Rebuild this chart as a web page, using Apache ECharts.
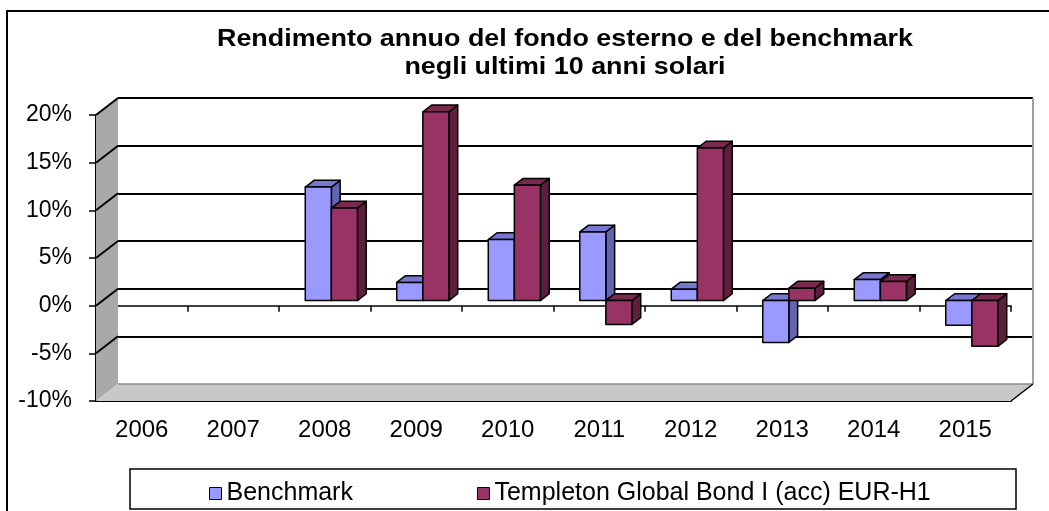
<!DOCTYPE html>
<html>
<head>
<meta charset="utf-8">
<script src="https://cdn.jsdelivr.net/npm/echarts@6/dist/echarts.min.js"></script>
<style>
  html, body { margin: 0; padding: 0; background: #fff; }
  #chart { width: 1049px; height: 511px; }
</style>
</head>
<body>
<div id="chart"></div>
<script>
// dati
const years = ['2006', '2007', '2008', '2009', '2010', '2011', '2012', '2013', '2014', '2015'];
const benchmark = [null, null, 11.9, 1.9, 6.4, 7.2, 1.2, -4.4, 2.2, -2.6];
const templeton = [null, null, 9.7, 19.8, 12.1, -2.5, 16.0, 1.3, 2.0, -4.8];
const yTicks = [-10, -5, 0, 5, 10, 15, 20];

const FONT = 'Liberation Sans, Arial, sans-serif';
// profondita' del grafico 3D (spostamento parete di fondo)
const DX = 22, DY = -17;

function toData(arr) {
    return arr.map((v, i) => [i, v == null ? '-' : v]);
}

// barra "3D": faccia frontale, faccia superiore, fianco destro
function barRenderer(side, front, topCol, sideCol) {
    return function (params, api) {
        const idx = api.value(0);
        const val = api.value(1);
        if (isNaN(val)) return null;
        const band = api.size([1, 0])[0];
        const w = band * 0.285;
        const p0 = api.coord([idx, 0]);
        const p1 = api.coord([idx, val]);
        const fx = DX * 0.3, fy = DY * 0.3;
        const ddx = DX * 0.4, ddy = DY * 0.4;
        const x0 = (side === 0 ? p0[0] - w : p0[0]) + fx;
        const x1 = x0 + w;
        const yT = Math.min(p0[1], p1[1]) + fy;
        const yB = Math.max(p0[1], p1[1]) + fy;
        const stroke = { stroke: '#000', lineWidth: 1.5, lineJoin: 'round' };
        return {
            type: 'group',
            children: [
                {
                    type: 'polygon',
                    shape: { points: [[x1, yT], [x1 + ddx, yT + ddy], [x1 + ddx, yB + ddy], [x1, yB]] },
                    style: Object.assign({ fill: sideCol }, stroke)
                },
                {
                    type: 'polygon',
                    shape: { points: [[x0, yT], [x1, yT], [x1 + ddx, yT + ddy], [x0 + ddx, yT + ddy]] },
                    style: Object.assign({ fill: topCol }, stroke)
                },
                {
                    type: 'rect',
                    shape: { x: x0, y: yT, width: w, height: yB - yT },
                    style: Object.assign({ fill: front }, stroke)
                }
            ]
        };
    };
}

// parete sinistra e pavimento
function wallRenderer(params, api) {
    const cs = params.coordSys;
    const x = cs.x, y = cs.y, w = cs.width, h = cs.height;
    const children = [
        {
            type: 'polygon',
            shape: { points: [[x, y], [x + DX, y + DY], [x + DX, y + h + DY], [x, y + h]] },
            style: { fill: '#A9A9A9' }
        },
        {
            type: 'polygon',
            shape: { points: [[x, y + h], [x + DX, y + h + DY], [x + w + DX, y + h + DY], [x + w, y + h]] },
            style: { fill: '#C8C8C8' }
        },
        {
            type: 'line',
            shape: { x1: x + DX, y1: y + h + DY, x2: x + w + DX, y2: y + h + DY },
            style: { stroke: '#8C8C8C', lineWidth: 1.5 }
        },
        {
            type: 'line',
            shape: { x1: x + w + DX, y1: y + DY, x2: x + w + DX, y2: y + h + DY },
            style: { stroke: '#A0A0A0', lineWidth: 2 }
        },
        {
            type: 'line',
            shape: { x1: x + w, y1: y + h, x2: x + w + DX, y2: y + h + DY },
            style: { stroke: '#000', lineWidth: 1.5 }
        }
    ];
    yTicks.forEach(t => {
        if (t === yTicks[0]) return;
        const ty = api.coord([0, t])[1];
        children.push({
            type: 'line',
            shape: { x1: x, y1: ty, x2: x + DX, y2: ty + DY },
            style: { stroke: '#000', lineWidth: 2 }
        });
    });
    return { type: 'group', children: children };
}

function initChart() {
    const chart = echarts.init(document.getElementById('chart'));
    const yMin = yTicks[0], yMax = yTicks[yTicks.length - 1];

    const option = {
        animation: false,
        backgroundColor: '#fff',
        graphic: [
            {
                type: 'rect',
                shape: { x: 7, y: 11, width: 1100, height: 600 },
                style: { fill: 'none', stroke: '#000', lineWidth: 2 }
            },
            {
                type: 'text',
                x: 565, y: 25,
                scaleX: 1.12,
                style: {
                    text: 'Rendimento annuo del fondo esterno e del benchmark\nnegli ultimi 10 anni solari',
                    align: 'center', verticalAlign: 'top',
                    font: 'bold 24px ' + FONT, lineHeight: 28, fill: '#000'
                }
            },
            {
                type: 'rect',
                shape: { x: 130, y: 469, width: 886, height: 40 },
                style: { fill: 'none', stroke: '#000', lineWidth: 1.5 }
            }
        ],
        legend: {
            left: 204, top: 476,
            itemWidth: 12, itemHeight: 12, itemGap: 124,
            textStyle: { fontFamily: FONT, fontSize: 25, color: '#000' },
            data: [
                { name: 'Benchmark', icon: 'rect', itemStyle: { color: '#9999FF', borderColor: '#000', borderWidth: 1 } },
                { name: 'Templeton Global Bond I (acc) EUR-H1', icon: 'rect', itemStyle: { color: '#993366', borderColor: '#000', borderWidth: 1 } }
            ]
        },
        grid: [
            { left: 96, top: 115, width: 915, height: 286 },
            { left: 96 + DX, top: 115 + DY, width: 915, height: 286 }
        ],
        xAxis: [
            {
                type: 'category', gridIndex: 0, data: years, position: 'bottom',
                axisLine: { onZero: false, lineStyle: { color: '#000', width: 2 } },
                axisTick: { show: false },
                axisLabel: { fontFamily: FONT, fontSize: 24, color: '#000', margin: 17 }
            },
            {
                type: 'category', gridIndex: 0, data: years, position: 'top',
                axisLine: { onZero: true, onZeroAxisIndex: 0, lineStyle: { color: '#000', width: 1.5 } },
                axisTick: { show: true, inside: true, length: 6, lineStyle: { color: '#000', width: 1.5 } },
                axisLabel: { show: false }
            },
            {
                type: 'category', gridIndex: 1, data: years, show: false
            }
        ],
        yAxis: [
            {
                type: 'value', gridIndex: 0, min: yMin, max: yMax, interval: 5,
                axisLine: { show: true, lineStyle: { color: '#000', width: 2 } },
                axisTick: { show: true, length: 7, lineStyle: { color: '#000', width: 1.5 } },
                axisLabel: { fontFamily: FONT, fontSize: 23, color: '#000', margin: 24, formatter: '{value}%' },
                splitLine: { show: false }
            },
            {
                type: 'value', gridIndex: 1, min: yMin, max: yMax, interval: 5,
                axisLine: { show: false }, axisTick: { show: false }, axisLabel: { show: false },
                splitLine: { show: true, showMinLine: false, lineStyle: { color: '#000', width: 2 } }
            }
        ],
        series: [
            {
                name: 'walls', type: 'custom', xAxisIndex: 0, yAxisIndex: 0, z: 1,
                silent: true, data: [[0, 0]], renderItem: wallRenderer
            },
            {
                name: 'Benchmark', type: 'custom', xAxisIndex: 0, yAxisIndex: 0,
                itemStyle: { color: '#9999FF' }, encode: { x: 0, y: 1 },
                data: toData(benchmark),
                renderItem: barRenderer(0, '#9999FF', '#7878D0', '#6464B0')
            },
            {
                name: 'Templeton Global Bond I (acc) EUR-H1', type: 'custom', xAxisIndex: 0, yAxisIndex: 0,
                itemStyle: { color: '#993366' }, encode: { x: 0, y: 1 },
                data: toData(templeton),
                renderItem: barRenderer(1, '#993366', '#7A2951', '#5E1F3E')
            }
        ]
    };

    chart.setOption(option);
    window.addEventListener('resize', () => chart.resize());
}

document.addEventListener('DOMContentLoaded', function () {
    if (typeof echarts === 'undefined') {
        console.error('ECharts non caricato');
        return;
    }
    initChart();
});
</script>
</body>
</html>
